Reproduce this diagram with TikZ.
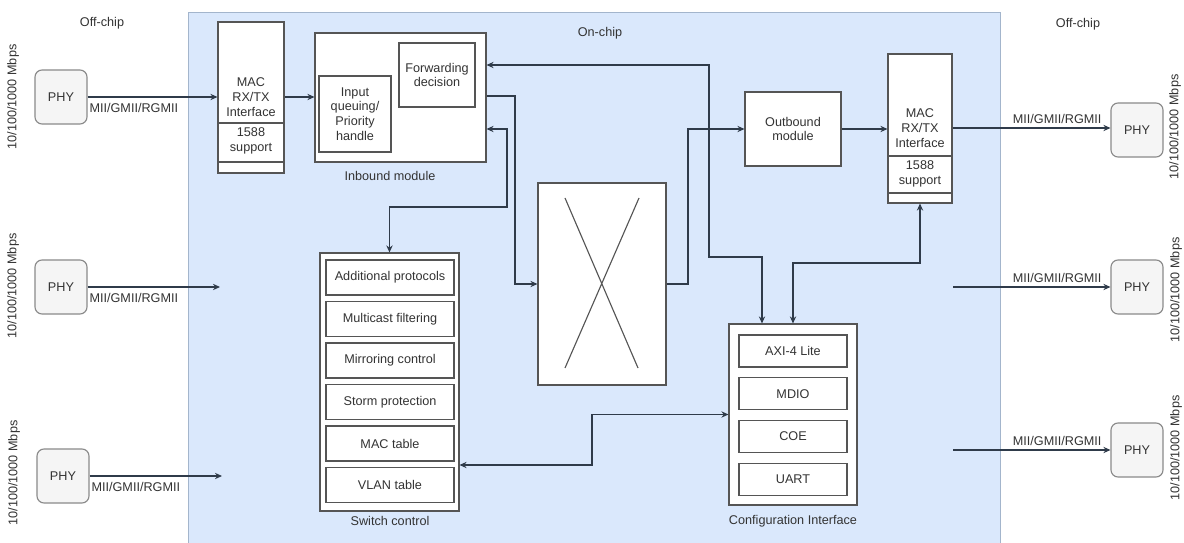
\documentclass[tikz,border=0pt]{standalone}
\usepackage{fontspec}
\setmainfont{Liberation Sans}
\usetikzlibrary{arrows.meta}
\definecolor{chipfill}{HTML}{DAE8FC}
\definecolor{chipline}{HTML}{A3B5CC}
\definecolor{phyfill}{HTML}{F5F5F5}
\definecolor{phyline}{HTML}{8A8A8A}
\definecolor{wirecol}{HTML}{2F3B4A}
\definecolor{boxline}{HTML}{555555}
\definecolor{txt}{HTML}{333333}
\tikzset{
    sz/.style 2 args={minimum width=#1*0.025cm, minimum height=#2*0.025cm},
    blk/.style={draw=boxline, fill=white, line width=0.8pt, inner sep=0pt, align=center},
    phy/.style={draw=phyline, fill=phyfill, rounded corners=5pt, line width=0.8pt, sz={52}{54}},
    wire/.style={draw=wirecol, line width=0.8pt},
    lbl/.style={inner sep=1pt}
}
\begin{document}
\begin{tikzpicture}[x=0.025cm, y=-0.025cm, >={Stealth[length=5pt,width=4.5pt]},
                    font=\fontsize{9}{10.5}\selectfont, text=txt]
                    \useasboundingbox (0,0) rectangle (1184,543);
                    \fill[white] (0,0) rectangle (1184,543);
                    \draw[chipline, fill=chipfill, line width=0.6pt] (188,12) rectangle (1000,552);

                    \node (offL) at (102,23) {Off-chip};
                    \node (onchip) at (600,33) {On-chip};
                    \node (offR) at (1078,24) {Off-chip};

                    \node[phy] (phyL1) at (61,97) {PHY};
                    \node[phy] (phyL2) at (61,287) {PHY};
                    \node[phy] (phyL3) at (63,476) {PHY};
                    \node[phy] (phyR1) at (1137,130) {PHY};
                    \node[phy] (phyR2) at (1137,287) {PHY};
                    \node[phy] (phyR3) at (1137,450) {PHY};

                    \node[rotate=90] (rateL1) at (13,97) {10/100/1000 Mbps};
                    \node[rotate=90] (rateL2) at (13,286) {10/100/1000 Mbps};
                    \node[rotate=90] (rateL3) at (14,473) {10/100/1000 Mbps};
                    \node[rotate=90] (rateR1) at (1175,127) {10/100/1000 Mbps};
                    \node[rotate=90] (rateR2) at (1176,290) {10/100/1000 Mbps};
                    \node[rotate=90] (rateR3) at (1176,448) {10/100/1000 Mbps};

                    \node[blk, sz={66}{151}] (macL) at (251,97.5) {};
                    \node[align=center] (macLif) at (251,97) {MAC\\RX/TX\\Interface};
                    \node[align=center] (macLts) at (251,141) {1588\\support};
                    \draw[boxline, line width=0.8pt] (macL.west |- 0,123) -- (macL.east |- 0,123);
                    \draw[boxline, line width=0.8pt] (macL.west |- 0,162) -- (macL.east |- 0,162);

                    \node[blk, sz={64}{149}] (macR) at (920,128.5) {};
                    \node[align=center] (macRif) at (920,128) {MAC\\RX/TX\\Interface};
                    \node[align=center] (macRts) at (920,174) {1588\\support};
                    \draw[boxline, line width=0.8pt] (macR.west |- 0,156) -- (macR.east |- 0,156);
                    \draw[boxline, line width=0.8pt] (macR.west |- 0,193) -- (macR.east |- 0,193);

                    \node[blk, sz={171}{129}] (inb) at (400.5,97.5) {};
                    \node[blk, sz={72}{76}] (queue) at (355,114) {Input\\queuing/\\Priority\\handle};
                    \node[blk, sz={76}{64}] (fwd) at (437,75) {Forwarding\\decision};
                    \node (inblbl) at (390,176) {Inbound module};

                    \node[blk, sz={96}{74}] (outb) at (793,129) {Outbound\\module};

                    \node[blk, sz={128}{202}] (xbar) at (602,284) {};
                    \draw[boxline, line width=0.8pt] (565,198) -- (638,368) (639,198) -- (565,368);

                    \node[blk, sz={139}{258}] (swc) at (389.5,382) {};
                    \foreach \name [count=\i] in {Additional protocols, Multicast filtering, Mirroring control,
                                                 Storm protection, MAC table, VLAN table}
                        \node[blk, sz={128}{35}] (swc\i) at (390,236+41.5*\i) {\name};
                    \node (swclbl) at (390,521) {Switch control};

                    \node[blk, sz={128}{181}] (cfg) at (793,414.5) {};
                    \foreach \name [count=\i] in {AXI-4 Lite, MDIO, COE, UART}
                        \node[blk, sz={108}{32}] (cfg\i) at (793,308.3+42.7*\i) {\name};
                    \node (cfglbl) at (793,521) {Configuration Interface};

                    \coordinate (inL2) at (220,287);
                    \coordinate (inL3) at (222,476);
                    \coordinate (outR2) at (953,287);
                    \coordinate (outR3) at (953,450);

                    \draw[wire,->] (phyL1.east) -- (phyL1.east -| macL.west)
                        node[lbl, pos=0, anchor=north west, yshift=-3pt] (miiL1) {MII/GMII/RGMII};
                    \draw[wire,->] (phyL2.east) -- (inL2)
                        node[lbl, pos=0, anchor=north west, yshift=-3pt] (miiL2) {MII/GMII/RGMII};
                    \draw[wire,->] (phyL3.east) -- (inL3)
                        node[lbl, pos=0, anchor=north west, yshift=-3pt] (miiL3) {MII/GMII/RGMII};
                    \draw[wire,->] (macR.east |- 0,128) -- (phyR1.west |- 0,128)
                        node[lbl, pos=1, anchor=south east, xshift=-5pt, yshift=2pt] (miiR1) {MII/GMII/RGMII};
                    \draw[wire,->] (outR2) -- (phyR2.west)
                        node[lbl, pos=1, anchor=south east, xshift=-5pt, yshift=2pt] (miiR2) {MII/GMII/RGMII};
                    \draw[wire,->] (outR3) -- (phyR3.west)
                        node[lbl, pos=1, anchor=south east, xshift=-5pt, yshift=2pt] (miiR3) {MII/GMII/RGMII};

                    \draw[wire,->] (macL.east |- 0,97) -- (inb.west |- 0,97);
                    \draw[wire,->] (outb.east) -- (macR.west |- outb.east);
                    \draw[wire,<->] (inb.east |- 0,65) -| (709,257) -| (cfg.north -| 762,0);
                    \draw[wire,->] (inb.east |- 0,96) -| (515,284) -- (xbar.west);
                    \draw[wire,<->] (inb.east |- 0,129) -| (507,207) -| (swc.north);
                    \draw[wire,->] (xbar.east) -| (688,129) -- (outb.west);
                    \draw[wire,<->] (macR.south) |- (cfg.north |- 0,263) -- (cfg.north);
                    \draw[wire,<->] (swc.east |- 0,465) -| (592,414.5) -- (cfg.west);
\end{tikzpicture}
\end{document}
